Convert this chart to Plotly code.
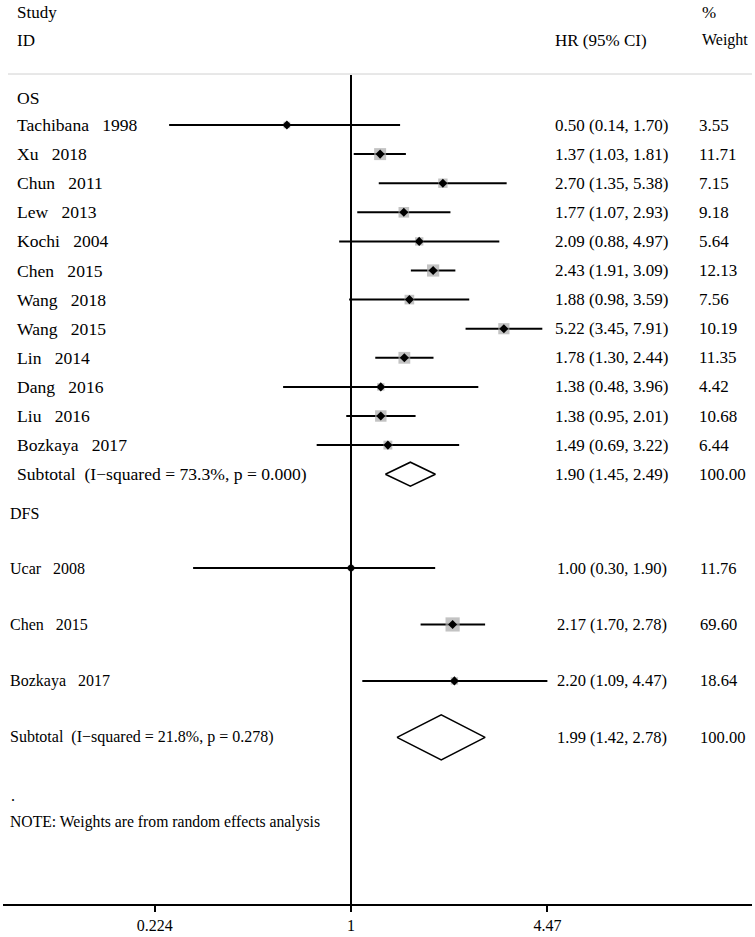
import plotly.graph_objects as go

# ---------------- data ----------------
os_studies = ["Tachibana 1998", "Xu 2018", "Chun 2011", "Lew 2013", "Kochi 2004", "Chen 2015",
              "Wang 2018", "Wang 2015", "Lin 2014", "Dang 2016", "Liu 2016", "Bozkaya 2017"]
os_hr = [0.50, 1.37, 2.70, 1.77, 2.09, 2.43, 1.88, 5.22, 1.78, 1.38, 1.38, 1.49]
os_lo = [0.14, 1.03, 1.35, 1.07, 0.88, 1.91, 0.98, 3.45, 1.30, 0.48, 0.95, 0.69]
os_hi = [1.70, 1.81, 5.38, 2.93, 4.97, 3.09, 3.59, 7.91, 2.44, 3.96, 2.01, 3.22]
os_wt = [3.55, 11.71, 7.15, 9.18, 5.64, 12.13, 7.56, 10.19, 11.35, 4.42, 10.68, 6.44]
os_sub = dict(label="Subtotal (I\u2212squared = 73.3%, p = 0.000)", hr=1.90, lo=1.45, hi=2.49, wt=100.00)

dfs_studies = ["Ucar 2008", "Chen 2015", "Bozkaya 2017"]
dfs_hr = [1.00, 2.17, 2.20]
dfs_lo = [0.30, 1.70, 1.09]
dfs_hi = [1.90, 2.78, 4.47]
dfs_wt = [11.76, 69.60, 18.64]
dfs_sub = dict(label="Subtotal (I\u2212squared = 21.8%, p = 0.278)", hr=1.99, lo=1.42, hi=2.78, wt=100.00)

tick_vals = [0.224, 1, 4.47]
tick_text = ["0.224", "1", "4.47"]
note_text = "NOTE: Weights are from random effects analysis"

# ---------------- layout helpers ----------------
W, H = 755, 937
ML, MR, MT, MB = 3, 3, 0, 33
PW = W - ML - MR
ROW = 29.1           # px per OS row
Y0 = 125             # pixel of first OS study row


def yu(p):           # pixel -> y units
    return (p - Y0) / ROW


def xp(p):           # pixel -> paper x
    return (p - ML) / PW


ref_frac = (351 - ML) / PW
def log_range(scale):
    span = PW / scale
    return [-ref_frac * span, (1 - ref_frac) * span]

FONT = "Liberation Serif"
FS_HEAD = 17
FS_OS_LAB = 17.6
FS_OS_NUM = 17
FS_DFS_LAB = 16
FS_DFS_NUM = 16.5

os_y = list(range(len(os_studies)))
os_sub_y = len(os_studies)
os_head_y = -0.93
dfs_step = 1.94
dfs_start = yu(568)
dfs_y = [dfs_start + dfs_step * j for j in range(len(dfs_studies))]
dfs_sub_y = dfs_start + dfs_step * len(dfs_studies)
dfs_head_y = dfs_start - dfs_step * 0.97


def spaced(s):
    name, yr = s.rsplit(" ", 1)
    return name + "\u00a0\u00a0\u00a0" + yr


fig = go.Figure()


def add_section(studies, hr, lo, hi, wt, ys, sub, sub_y, xa, box_k, dh):
    xs, yl = [], []
    for l, h, y in zip(lo, hi, ys):
        xs += [l, h, None]
        yl += [y, y, None]
    fig.add_trace(go.Scatter(x=xs, y=yl, mode="lines", xaxis=xa, yaxis="y",
                             line=dict(color="black", width=2), hoverinfo="skip"))
    fig.add_trace(go.Scatter(x=hr, y=ys, mode="markers", xaxis=xa, yaxis="y",
                             marker=dict(symbol="square", color="#a9a9a9",
                                         size=[box_k * w ** 0.5 for w in wt],
                                         line=dict(width=0)), hoverinfo="skip"))
    fig.add_trace(go.Scatter(x=hr, y=ys, mode="markers", xaxis=xa, yaxis="y",
                             marker=dict(symbol="diamond", color="black", size=7),
                             hoverinfo="skip"))
    fig.add_trace(go.Scatter(x=[sub["lo"], sub["hr"], sub["hi"], sub["hr"], sub["lo"]],
                             y=[sub_y, sub_y - dh, sub_y, sub_y + dh, sub_y],
                             mode="lines", xaxis=xa, yaxis="y", fill="toself",
                             fillcolor="white", line=dict(color="black", width=1.5),
                             hoverinfo="skip"))


add_section(os_studies, os_hr, os_lo, os_hi, os_wt, os_y, os_sub, os_sub_y, "x2", 3.5, 12 / ROW)
add_section(dfs_studies, dfs_hr, dfs_lo, dfs_hi, dfs_wt, dfs_y, dfs_sub, dfs_sub_y, "x", 1.7, 22.5 / ROW)

y_bottom = yu(H - MB)
fig.add_trace(go.Scatter(x=[1, 1], y=[yu(75), y_bottom], mode="lines", xaxis="x", yaxis="y",
                         line=dict(color="black", width=2), hoverinfo="skip"))

ann = []


def txt(x, y, s, size, anchor="left"):
    ann.append(dict(x=xp(x), y=y, xref="paper", yref="y", text=s, showarrow=False,
                    xanchor=anchor, yanchor="middle",
                    font=dict(family=FONT, size=size, color="black")))


txt(15, yu(12), "Study", FS_HEAD)
txt(15, yu(40), "ID", FS_HEAD)
txt(700, yu(12), "%", FS_HEAD)
txt(553, yu(40), "HR (95% CI)", FS_HEAD)
txt(700, yu(40), "Weight", 16)

txt(15, os_head_y, "OS", FS_OS_LAB)
for s, h, l, u, w, y in zip(os_studies, os_hr, os_lo, os_hi, os_wt, os_y):
    txt(15, y, spaced(s), FS_OS_LAB)
    txt(553, y, f"{h:.2f} ({l:.2f}, {u:.2f})", FS_OS_NUM)
    txt(697, y, f"{w:.2f}", FS_OS_NUM)
txt(15, os_sub_y, os_sub["label"].replace("l (", "l\u00a0\u00a0("), FS_OS_LAB)
txt(553, os_sub_y, f"{os_sub['hr']:.2f} ({os_sub['lo']:.2f}, {os_sub['hi']:.2f})", FS_OS_NUM)
txt(697, os_sub_y, f"{os_sub['wt']:.2f}", FS_OS_NUM)

txt(8, dfs_head_y, "DFS", FS_DFS_LAB)
for s, h, l, u, w, y in zip(dfs_studies, dfs_hr, dfs_lo, dfs_hi, dfs_wt, dfs_y):
    txt(8, y, spaced(s), FS_DFS_LAB)
    txt(555, y, f"{h:.2f} ({l:.2f}, {u:.2f})", FS_DFS_NUM)
    txt(698, y, f"{w:.2f}", FS_DFS_NUM)
txt(8, dfs_sub_y, dfs_sub["label"].replace("l (", "l\u00a0\u00a0("), FS_DFS_LAB)
txt(555, dfs_sub_y, f"{dfs_sub['hr']:.2f} ({dfs_sub['lo']:.2f}, {dfs_sub['hi']:.2f})", FS_DFS_NUM)
txt(698, dfs_sub_y, f"{dfs_sub['wt']:.2f}", FS_DFS_NUM)

txt(9, yu(795), ".", FS_DFS_LAB)
txt(8, yu(822), note_text, 15.7)

fig.update_layout(
    width=W, height=H,
    margin=dict(l=ML, r=MR, t=MT, b=MB),
    paper_bgcolor="white", plot_bgcolor="white",
    showlegend=False,
    annotations=ann,
    shapes=[dict(type="line", xref="paper", yref="y", x0=xp(8), x1=xp(752),
                 y0=yu(74), y1=yu(74), line=dict(color="#d0d0d0", width=1))],
    xaxis=dict(type="log", range=log_range(302), tickvals=tick_vals, ticktext=tick_text,
               ticks="outside", ticklen=6, tickwidth=1.5, tickcolor="black",
               showline=True, linecolor="black", linewidth=1.5,
               showgrid=False, zeroline=False, fixedrange=True,
               tickfont=dict(family=FONT, size=16, color="black")),
    xaxis2=dict(type="log", range=log_range(213), overlaying="x", visible=False,
                showgrid=False, zeroline=False),
    yaxis=dict(range=[y_bottom, yu(0)], visible=False, showgrid=False, zeroline=False),
)

fig.write_html("out.html", config={"displayModeBar": False},
               post_script="document.body.style.margin='0';document.body.style.overflow='hidden';")
